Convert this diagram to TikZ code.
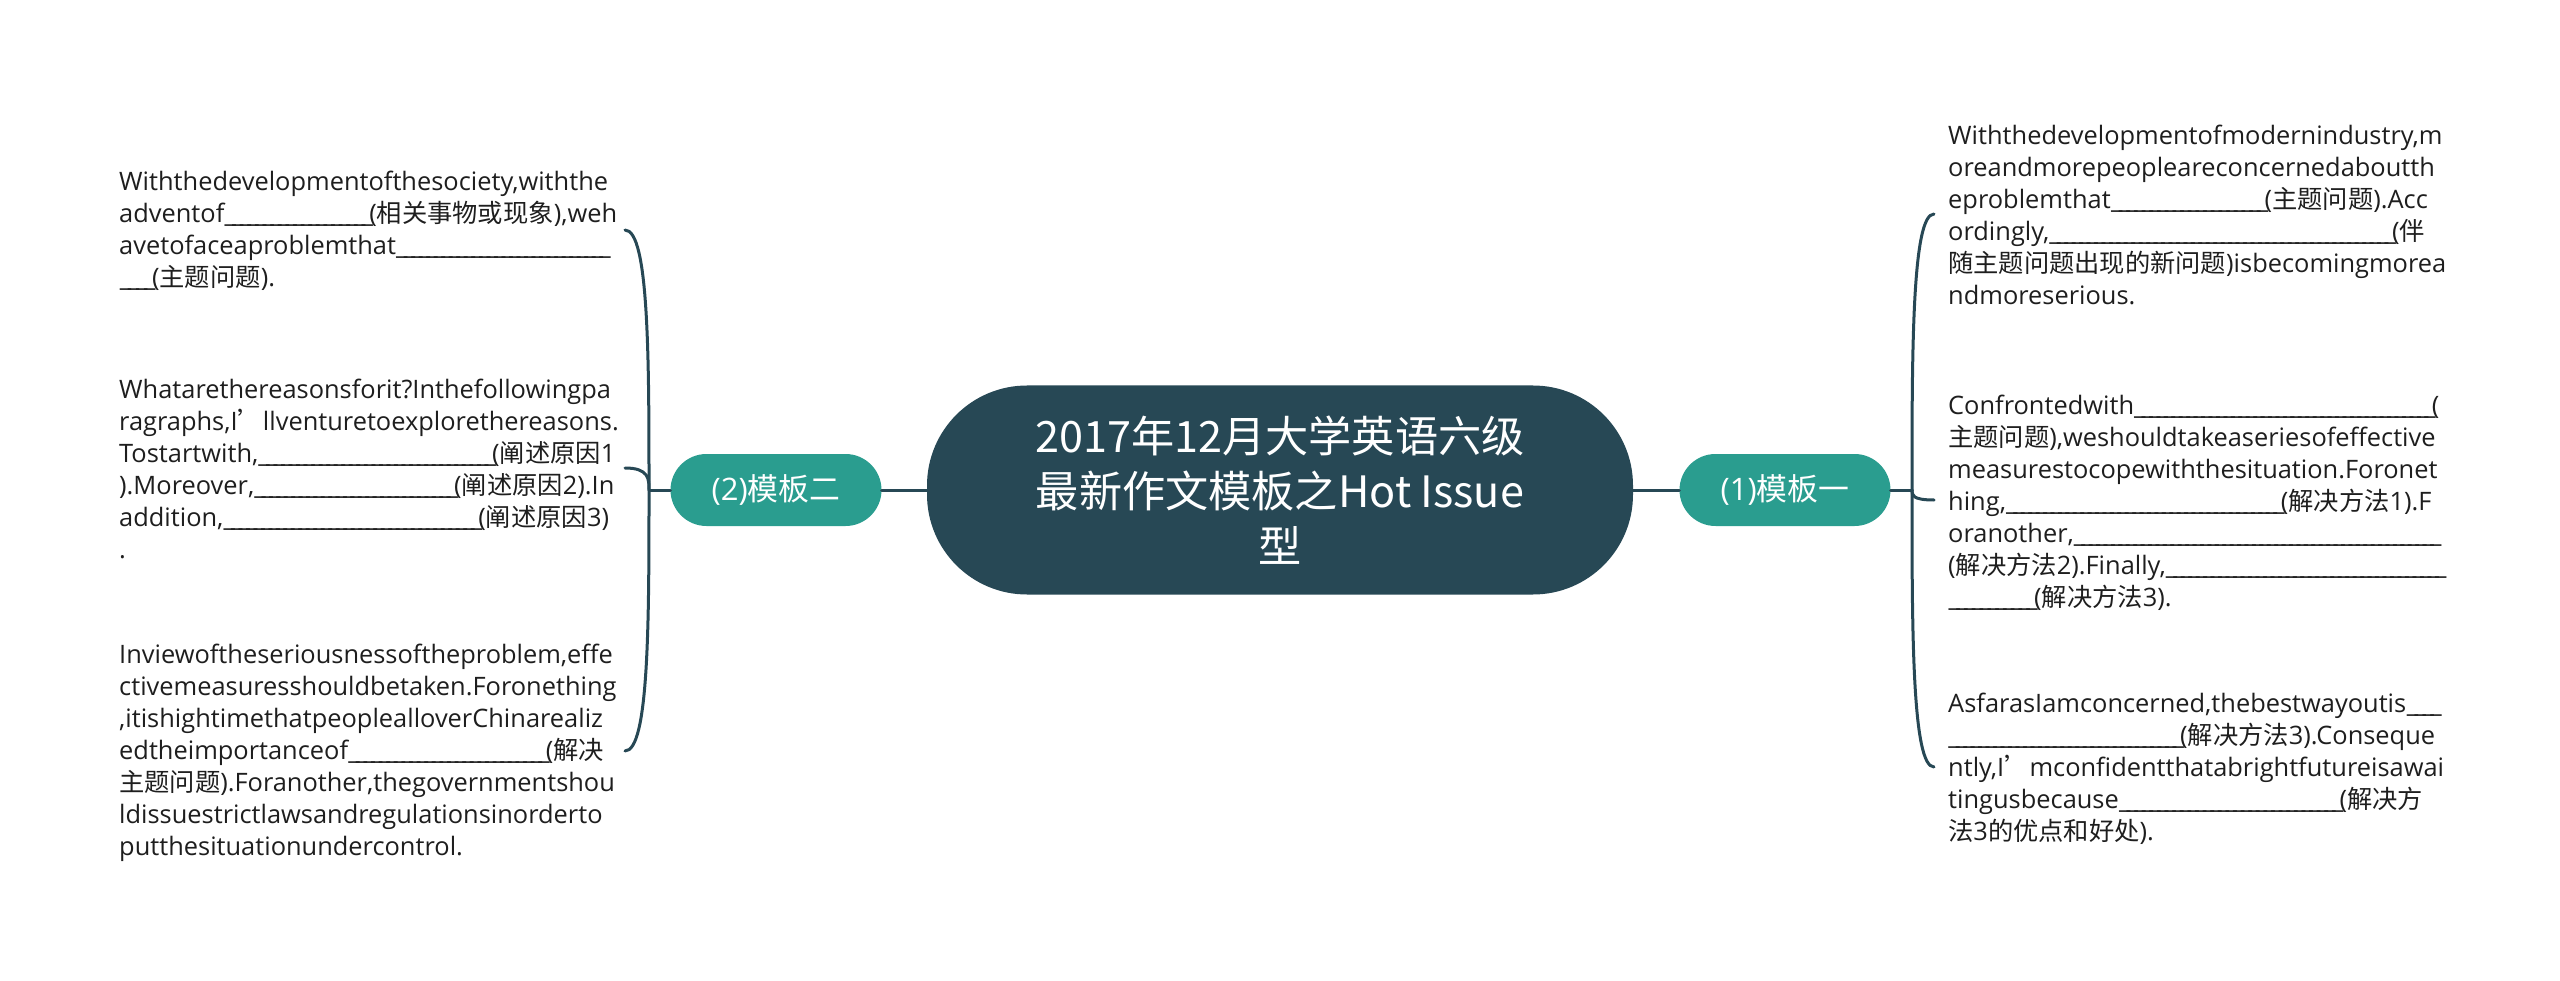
\documentclass[tikz,border=0pt]{standalone}
\usepackage{fontspec}
\setmainfont{Open Sans}
\newfontfamily\cjk[Scale=0.995]{Noto Sans CJK SC}
\newcommand\zh[1]{{\cjk #1}}
\newcommand\blank[1]{\leavevmode\xleaders\hbox{\_\kern-4pt}\hskip#1pt\kern0pt\relax}
\usetikzlibrary{calc}
\definecolor{mainC}{HTML}{274855}
\definecolor{subC}{HTML}{2A9D8F}
\definecolor{lineC}{HTML}{274855}
\definecolor{textC}{HTML}{1E1E1E}
\tikzset{
  conn/.style={draw=lineC, line width=3pt, line cap=round},
  topic/.style={fill=mainC, rounded corners=100pt, minimum width=706pt, minimum height=209pt, inner sep=0pt, text=white, align=center, font=\cjk\fontsize{43.4}{55}\selectfont},
  sub/.style={fill=subC, rounded corners=36pt, minimum width=211pt, minimum height=72pt, inner sep=0pt, text=white, font=\fontsize{31}{36}\selectfont},
  leaf/.style={anchor=west, align=left, inner sep=0pt, text=textC, font=\fontsize{25.4}{32}\selectfont},
}
\begin{document}
\begin{tikzpicture}[x=1pt,y=-1pt]
\useasboundingbox (0,0) rectangle (2560,981);
% main nodes
\node[topic] (c) at (1280,490) {2017年12月大学英语六级\\最新作文模板之Hot Issue\\型};
\node[sub] (b2) at (776,490) {(2)\zh{模板二}};
\node[sub] (b1) at (1785,490) {(1)\zh{模板一}};
% junctions and ends
\coordinate (JL) at (649,490);
\coordinate (JR) at (1912,490);
\coordinate (l1e) at (625,230);
\coordinate (l2e) at (625,468);
\coordinate (l3e) at (625,751);
\coordinate (r1e) at (1934,214);
\coordinate (r2e) at (1934,500);
\coordinate (r3e) at (1934,767);
% left leaves
\node[leaf] (l1) at (119,231) {Withthedevelopmentofthesociety,withthe\\
adventof\blank{145}(\zh{相关事物或现象}),weh\\
avetofaceaproblemthat\blank{211}\\
\blank{33}(\zh{主题问题}).};
\node[leaf] (l2) at (119,469) {Whatarethereasonsforit?Inthefollowingpa\\
ragraphs,I\zh{’}llventuretoexplorethereasons.\\
Tostartwith,\blank{234}(\zh{阐述原因}1\\
).Moreover,\blank{200}(\zh{阐述原因}2).In\\
addition,\blank{255}(\zh{阐述原因}3)\\
.};
\node[leaf] (l3) at (119,753) {Inviewoftheseriousnessoftheproblem,effe\\
ctivemeasuresshouldbetaken.Foronething\\
,itishightimethatpeoplealloverChinarealiz\\
edtheimportanceof\blank{198}(\zh{解决}\\
\zh{主题问题}).Foranother,thegovernmentshou\\
ldissuestrictlawsandregulationsinorderto\\
putthesituationundercontrol.};
% right leaves
\node[leaf] (r1) at (1948,215) {Withthedevelopmentofmodernindustry,m\\
oreandmorepeopleareconcernedaboutth\\
eproblemthat\blank{154}(\zh{主题问题}).Acc\\
ordingly,\blank{343}(\zh{伴}\\
\zh{随主题问题出现的新问题})isbecomingmorea\\
ndmoreserious.};
\node[leaf] (r2) at (1948,503) {Confrontedwith\blank{298}(\\
\zh{主题问题}),weshouldtakeaseriesofeffective\\
measurestocopewiththesituation.Foronet\\
hing,\blank{275}(\zh{解决方法}1).F\\
oranother,\blank{364}\\
(\zh{解决方法}2).Finally,\blank{277}\\
\blank{86}(\zh{解决方法}3).};
\node[leaf] (r3) at (1948,769) {AsfarasIamconcerned,thebestwayoutis\blank{32}\\
\blank{232}(\zh{解决方法}3).Conseque\\
ntly,I\zh{’}mconfidentthatabrightfutureisawai\\
tingusbecause\blank{221}(\zh{解决方}\\
\zh{法}3\zh{的优点和好处}).};
% connectors
\draw[conn] (c.west) -- (b2.east);
\draw[conn] (c.east) -- (b1.west);
\draw[conn] (b2.west) -- (JL);
\draw[conn] (b1.east) -- (JR);
\foreach \e in {l1e,l2e,l3e}{
  \draw[conn] (\e) .. controls (JL |- \e) and ($(JL |- \e)!0.5!(JL)$) .. (JL);
}
\foreach \e in {r1e,r2e,r3e}{
  \draw[conn] (\e) .. controls (JR |- \e) and ($(JR |- \e)!0.5!(JR)$) .. (JR);
}
\end{tikzpicture}
\end{document}
